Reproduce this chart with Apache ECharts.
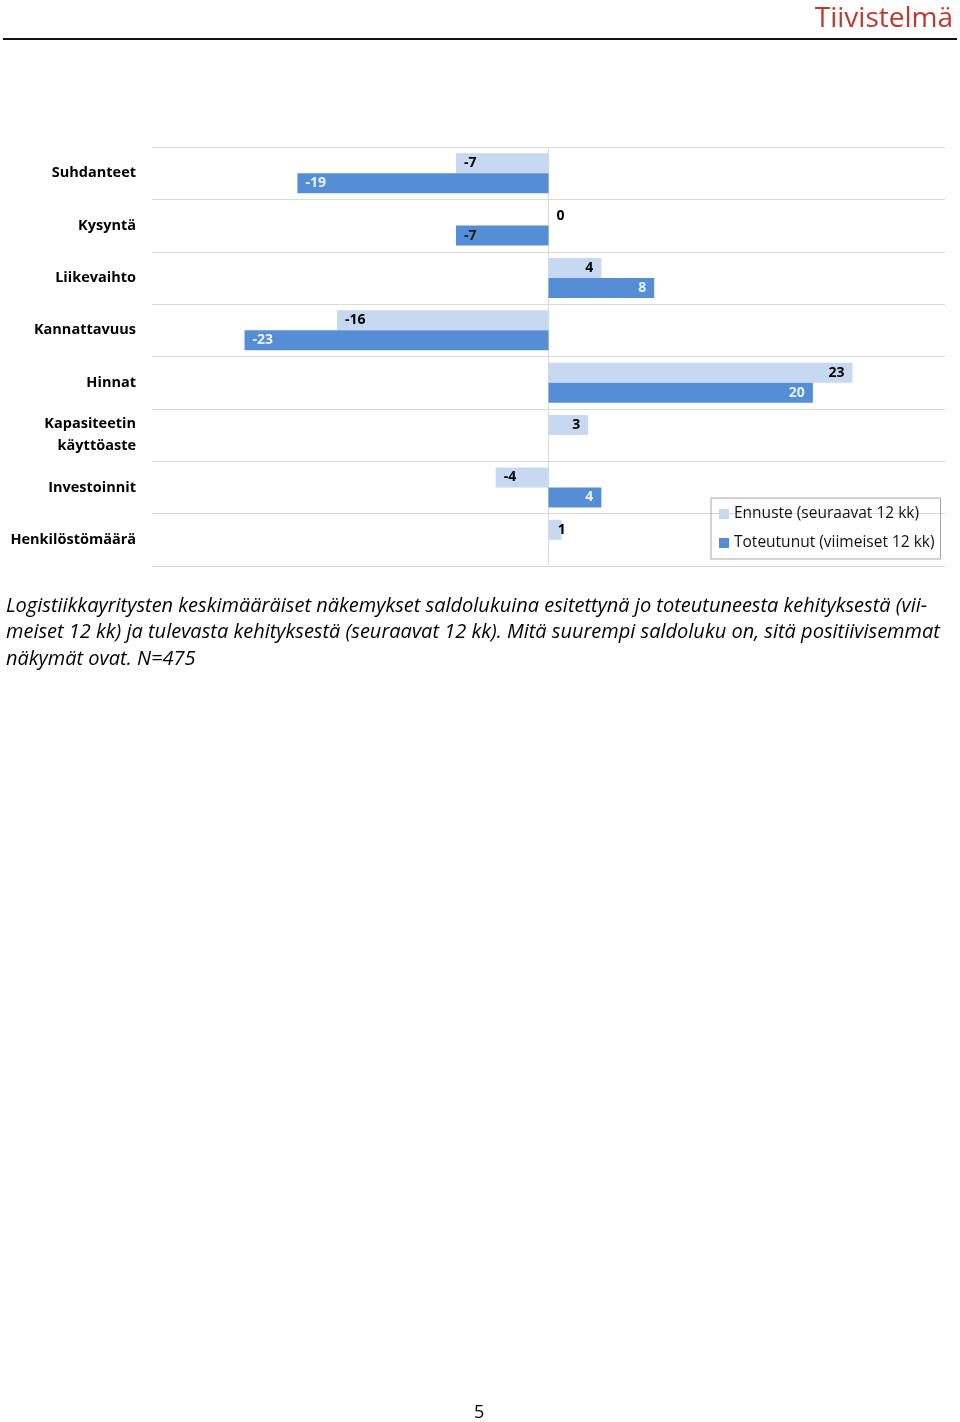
<!DOCTYPE html>
<html lang="fi">
<head>
    <meta charset="UTF-8">
    <title>Tiivistelmä</title>
    <script src="https://cdn.jsdelivr.net/npm/echarts@6/dist/echarts.min.js"></script>
    <style>
        html, body { margin: 0; padding: 0; background: #fff; }
        #main { width: 960px; height: 1422px; }
    </style>
</head>
<body>
    <div id="main"></div>
    <script type="text/javascript">
        var categories = ['Suhdanteet', 'Kysyntä', 'Liikevaihto', 'Kannattavuus', 'Hinnat',
            'Kapasiteetin\nkäyttöaste', 'Investoinnit', 'Henkilöstömäärä'];
        var ennuste = [-7, 0, 4, -16, 23, 3, -4, 1];
        var toteutunut = [-19, -7, 8, -23, 20, null, 4, null];

        var LIGHT = '#C6D9F1';
        var DARK = '#558ED5';

        // label inside the bar at its outer end; tiny bars get it just past the end
        function labelFor(v, color) {
            var pos = v < 0 ? 'insideLeft' : 'insideRight';
            var dist = 8;
            if (v === 0) { pos = 'right'; }
            else if (v > 0 && v < 2) { pos = 'right'; dist = -4; }
            return { position: pos, distance: dist, color: color };
        }

        var myChart = echarts.init(document.getElementById('main'));
        var option = {
            backgroundColor: '#fff',
            animation: false,
            textStyle: { fontFamily: 'Open Sans' },
            grid: { left: 152, right: 15, top: 147, bottom: 856 },
            legend: {
                orient: 'vertical',
                left: 711, top: 498,
                padding: [8, 6, 8, 8],
                itemGap: 13,
                itemWidth: 10, itemHeight: 10,
                borderColor: '#A6A6A6', borderWidth: 1,
                icon: 'rect',
                textStyle: { fontSize: 15.5, color: '#111', fontFamily: 'Open Sans' },
                data: ['Ennuste (seuraavat 12 kk)', 'Toteutunut (viimeiset 12 kk)']
            },
            xAxis: {
                type: 'value', min: -30, max: 30,
                axisLabel: { show: false }, axisLine: { show: false },
                axisTick: { show: false }, splitLine: { show: false }
            },
            yAxis: {
                type: 'category', inverse: true, data: categories,
                axisTick: { show: false },
                axisLine: { show: true, onZero: true, lineStyle: { color: '#D9D9D9', width: 1 } },
                splitLine: { show: true, lineStyle: { color: '#D9D9D9', width: 1 } },
                axisLabel: {
                    margin: 16, fontSize: 14.5, fontWeight: 'bold', color: '#000',
                    lineHeight: 22, fontFamily: 'Open Sans'
                }
            },
            series: [
                {
                    name: 'Ennuste (seuraavat 12 kk)', type: 'bar',
                    barWidth: 20, barGap: '0%',
                    itemStyle: { color: LIGHT },
                    label: { show: true, fontSize: 14, fontWeight: 'bold' },
                    data: ennuste.map(function (v) {
                        return { value: v, label: labelFor(v, '#000') };
                    })
                },
                {
                    name: 'Toteutunut (viimeiset 12 kk)', type: 'bar',
                    barWidth: 20, barGap: '0%',
                    itemStyle: { color: DARK },
                    label: { show: true, fontSize: 14, fontWeight: 'bold' },
                    data: toteutunut.map(function (v, i) {
                        if (v === null) return null;
                        return { value: v, label: labelFor(v, i === 1 ? '#1a1a1a' : '#EAF1FB') };
                    })
                }
            ],
            graphic: [
                {
                    type: 'text', right: 7, top: 5,
                    style: { text: 'Tiivistelmä', fontSize: 28, fill: '#C0392B', fontFamily: 'Open Sans' }
                },
                {
                    type: 'line', shape: { x1: 3, y1: 39, x2: 957, y2: 39 },
                    style: { stroke: '#111', lineWidth: 2 }
                },
                {
                    type: 'text', left: 6, top: 593,
                    style: {
                        text: 'Logistiikkayritysten keskimääräiset näkemykset saldolukuina esitettynä jo toteutuneesta kehityksestä (vii-\nmeiset 12 kk) ja tulevasta kehityksestä (seuraavat 12 kk). Mitä suurempi saldoluku on, sitä positiivisemmat\nnäkymät ovat. N=475',
                        fontSize: 20, fontStyle: 'italic', lineHeight: 26.5, fill: '#000', fontFamily: 'Open Sans'
                    }
                },
                {
                    type: 'text', left: 474, top: 1404,
                    style: { text: '5', fontSize: 18, fill: '#000', fontFamily: 'Open Sans' }
                }
            ]
        };
        myChart.setOption(option);
    </script>
</body>
</html>
